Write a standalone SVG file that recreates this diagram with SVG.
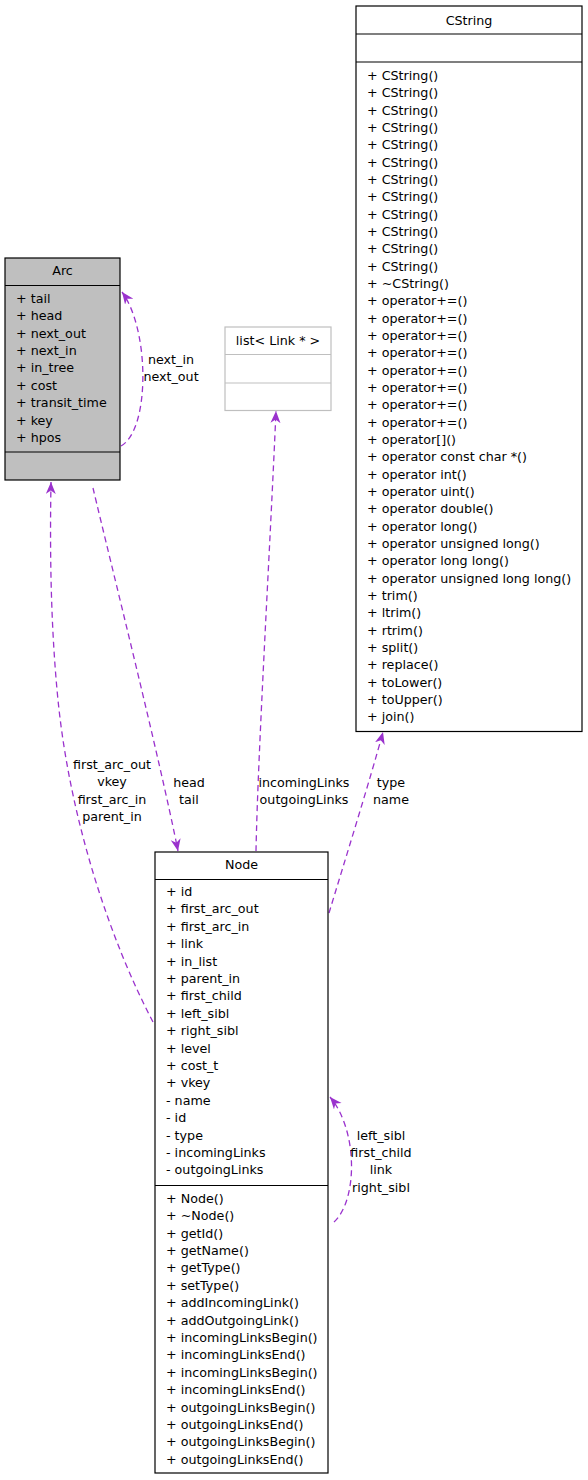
<svg xmlns="http://www.w3.org/2000/svg" width="588" height="1480" viewBox="0 0 588 1480">
<style>
text{font-family:"DejaVu Sans","Liberation Sans",sans-serif;font-size:12.7px;fill:#000}
.c{text-anchor:middle}
.box{fill:#fff;stroke:#000;stroke-width:1.2}
.gray{fill:#bfbfbf}
.lt{stroke:#bfbfbf}
.e{fill:none;stroke:#9a32cd;stroke-width:1.3;stroke-dasharray:6,4;marker-end:url(#ah)}
</style>
<defs>
<marker id="ah" markerUnits="userSpaceOnUse" markerWidth="13" markerHeight="11" refX="12" refY="5" orient="auto">
<path d="M0,0 L12,5 L0,10 L3.5,5 z" fill="#9a32cd"/>
</marker>
</defs>
<g id="edges">
<path class="e" d="M121,446 C150,430 150,330 122,292"/>
<path class="e" d="M153,1022 C110,940 70,820 58,700 C50,620 50,540 51,482"/>
<path class="e" d="M93,488 C110,560 160,760 178,851"/>
<path class="e" d="M256,851 C258,750 270,550 276,411"/>
<path class="e" d="M329,913 C345,860 370,780 383,732"/>
<path class="e" d="M334,1222 C358,1200 358,1130 330,1097"/>
<text class="c" x="171" y="364">next_in</text>
<text class="c" x="171" y="381">next_out</text>
<text class="c" x="112" y="769">first_arc_out</text>
<text class="c" x="112" y="786">vkey</text>
<text class="c" x="112" y="804">first_arc_in</text>
<text class="c" x="112" y="821">parent_in</text>
<text class="c" x="189" y="787">head</text>
<text class="c" x="189" y="804">tail</text>
<text class="c" x="304" y="787">incomingLinks</text>
<text class="c" x="304" y="804">outgoingLinks</text>
<text class="c" x="391" y="787">type</text>
<text class="c" x="391" y="804">name</text>
<text class="c" x="381" y="1139.5">left_sibl</text>
<text class="c" x="381" y="1157">first_child</text>
<text class="c" x="381" y="1174">link</text>
<text class="c" x="381" y="1191.5">right_sibl</text>
</g>
<g id="Arc">
<rect class="box gray" x="5" y="258" width="115" height="222"/>
<line x1="5" y1="285.5" x2="120" y2="285.5" stroke="#000" stroke-width="1.2"/>
<line x1="5" y1="452" x2="120" y2="452" stroke="#000" stroke-width="1.2"/>
<text class="c" x="62.5" y="275">Arc</text>
<text x="16" y="303">+ tail</text>
<text x="16" y="320.2">+ head</text>
<text x="16" y="337.6">+ next_out</text>
<text x="16" y="355">+ next_in</text>
<text x="16" y="372.4">+ in_tree</text>
<text x="16" y="389.8">+ cost</text>
<text x="16" y="407.2">+ transit_time</text>
<text x="16" y="424.6">+ key</text>
<text x="16" y="442">+ hpos</text>
</g>
<g id="list">
<rect class="box lt" x="225" y="327" width="106" height="83.5"/>
<line x1="225" y1="354.5" x2="331" y2="354.5" stroke="#bfbfbf" stroke-width="1.2"/>
<line x1="225" y1="383" x2="331" y2="383" stroke="#bfbfbf" stroke-width="1.2"/>
<text class="c" x="278" y="344.5">list&lt; Link * &gt;</text>
</g>
<g id="CString">
<rect class="box" x="356" y="6" width="226" height="725.5"/>
<line x1="356" y1="34" x2="582" y2="34" stroke="#000" stroke-width="1.2"/>
<line x1="356" y1="62" x2="582" y2="62" stroke="#000" stroke-width="1.2"/>
<text class="c" x="469" y="24.5">CString</text>
<text x="367" y="80">+ CString()</text>
<text x="367" y="97.3">+ CString()</text>
<text x="367" y="114.7">+ CString()</text>
<text x="367" y="132">+ CString()</text>
<text x="367" y="149.3">+ CString()</text>
<text x="367" y="166.7">+ CString()</text>
<text x="367" y="184">+ CString()</text>
<text x="367" y="201.3">+ CString()</text>
<text x="367" y="218.6">+ CString()</text>
<text x="367" y="236">+ CString()</text>
<text x="367" y="253.3">+ CString()</text>
<text x="367" y="270.6">+ CString()</text>
<text x="367" y="288">+ ~CString()</text>
<text x="367" y="305.3">+ operator+=()</text>
<text x="367" y="322.6">+ operator+=()</text>
<text x="367" y="340">+ operator+=()</text>
<text x="367" y="357.3">+ operator+=()</text>
<text x="367" y="374.6">+ operator+=()</text>
<text x="367" y="392">+ operator+=()</text>
<text x="367" y="409.3">+ operator+=()</text>
<text x="367" y="426.6">+ operator+=()</text>
<text x="367" y="443.9">+ operator[]()</text>
<text x="367" y="461.3">+ operator const char *()</text>
<text x="367" y="478.6">+ operator int()</text>
<text x="367" y="495.9">+ operator uint()</text>
<text x="367" y="513.3">+ operator double()</text>
<text x="367" y="530.6">+ operator long()</text>
<text x="367" y="547.9">+ operator unsigned long()</text>
<text x="367" y="565.3">+ operator long long()</text>
<text x="367" y="582.6">+ operator unsigned long long()</text>
<text x="367" y="599.9">+ trim()</text>
<text x="367" y="617.2">+ ltrim()</text>
<text x="367" y="634.6">+ rtrim()</text>
<text x="367" y="651.9">+ split()</text>
<text x="367" y="669.2">+ replace()</text>
<text x="367" y="686.6">+ toLower()</text>
<text x="367" y="703.9">+ toUpper()</text>
<text x="367" y="721.2">+ join()</text>
</g>
<g id="Node">
<rect class="box" x="155" y="852" width="173" height="621"/>
<line x1="155" y1="879.5" x2="328" y2="879.5" stroke="#000" stroke-width="1.2"/>
<line x1="155" y1="1185.5" x2="328" y2="1185.5" stroke="#000" stroke-width="1.2"/>
<text class="c" x="241.5" y="869">Node</text>
<text x="166" y="896">+ id</text>
<text x="166" y="913.4">+ first_arc_out</text>
<text x="166" y="930.8">+ first_arc_in</text>
<text x="166" y="948.2">+ link</text>
<text x="166" y="965.6">+ in_list</text>
<text x="166" y="983">+ parent_in</text>
<text x="166" y="1000.4">+ first_child</text>
<text x="166" y="1017.8">+ left_sibl</text>
<text x="166" y="1035.2">+ right_sibl</text>
<text x="166" y="1052.6">+ level</text>
<text x="166" y="1070">+ cost_t</text>
<text x="166" y="1087.4">+ vkey</text>
<text x="166" y="1104.8">- name</text>
<text x="166" y="1122.2">- id</text>
<text x="166" y="1139.6">- type</text>
<text x="166" y="1157">- incomingLinks</text>
<text x="166" y="1174.4">- outgoingLinks</text>
<text x="166" y="1202.8">+ Node()</text>
<text x="166" y="1220.2">+ ~Node()</text>
<text x="166" y="1237.6">+ getId()</text>
<text x="166" y="1255">+ getName()</text>
<text x="166" y="1272.4">+ getType()</text>
<text x="166" y="1289.8">+ setType()</text>
<text x="166" y="1307.2">+ addIncomingLink()</text>
<text x="166" y="1324.6">+ addOutgoingLink()</text>
<text x="166" y="1342">+ incomingLinksBegin()</text>
<text x="166" y="1359.4">+ incomingLinksEnd()</text>
<text x="166" y="1376.8">+ incomingLinksBegin()</text>
<text x="166" y="1394.2">+ incomingLinksEnd()</text>
<text x="166" y="1411.6">+ outgoingLinksBegin()</text>
<text x="166" y="1429">+ outgoingLinksEnd()</text>
<text x="166" y="1446.4">+ outgoingLinksBegin()</text>
<text x="166" y="1463.8">+ outgoingLinksEnd()</text>
</g>
</svg>
